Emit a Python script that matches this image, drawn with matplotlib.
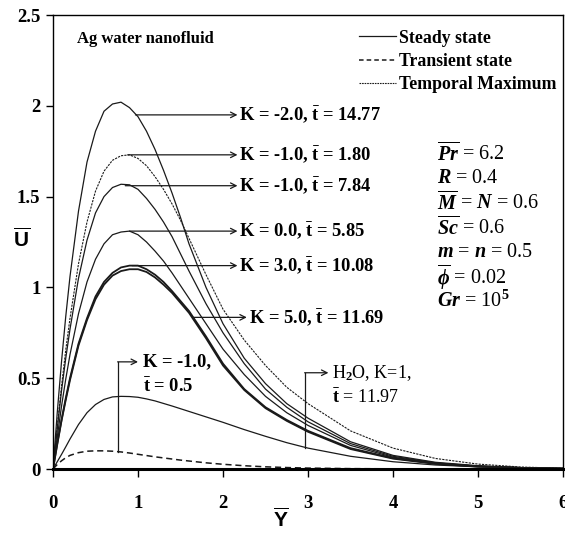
"""
Velocity profiles U(Y) for Ag-water nanofluid: steady, transient and temporal maximum.
"""

import matplotlib
matplotlib.use("Agg")
import matplotlib.pyplot as plt
from matplotlib.lines import Line2D

# Fonts
plt.rcParams["font.family"] = ["Liberation Serif", "DejaVu Serif"]
plt.rcParams["mathtext.fontset"] = "custom"
plt.rcParams["mathtext.rm"] = "Liberation Serif:bold"
plt.rcParams["mathtext.bf"] = "Liberation Serif:bold"
plt.rcParams["mathtext.it"] = "Liberation Serif:italic:bold"
plt.rcParams["mathtext.sf"] = "Liberation Sans:bold"

# Data
Y_GRID = [0, 0.05, 0.1, 0.15, 0.2, 0.3, 0.4, 0.5, 0.6, 0.7, 0.8, 0.9, 1.0, 1.1, 1.2, 1.3, 1.4, 1.5,
          1.6, 1.8, 2.0, 2.25, 2.5, 2.75, 3.0, 3.5, 4.0, 4.5, 5.0, 5.5, 6.0]

U_STEADY_K_M2 = [0, 0.31, 0.59, 0.84, 1.06, 1.42, 1.69, 1.86, 1.97, 2.01, 2.02, 1.99, 1.94, 1.86, 1.76, 1.645,
                 1.52, 1.385, 1.24, 1.00, 0.80, 0.61, 0.47, 0.36, 0.28, 0.15, 0.075, 0.037, 0.018, 0.008, 0.003]
U_TEMPORAL_K_M1 = [0, 0.235, 0.455, 0.655, 0.83, 1.13, 1.36, 1.53, 1.64, 1.70, 1.725, 1.73, 1.71, 1.67, 1.61, 1.54,
                   1.46, 1.37, 1.27, 1.07, 0.88, 0.71, 0.57, 0.45, 0.36, 0.21, 0.115, 0.058, 0.027, 0.011, 0.004]
U_STEADY_K_M1 = [0, 0.22, 0.43, 0.61, 0.77, 1.05, 1.26, 1.41, 1.50, 1.55, 1.568, 1.565, 1.54, 1.49, 1.43, 1.36,
                 1.28, 1.185, 1.09, 0.91, 0.75, 0.58, 0.44, 0.34, 0.26, 0.14, 0.07, 0.034, 0.016, 0.007, 0.003]
U_STEADY_K_0 = [0, 0.175, 0.345, 0.495, 0.63, 0.855, 1.03, 1.155, 1.24, 1.29, 1.305, 1.31, 1.29, 1.25, 1.20, 1.145,
                1.08, 1.01, 0.94, 0.80, 0.66, 0.52, 0.40, 0.31, 0.24, 0.13, 0.065, 0.032, 0.015, 0.007, 0.003]
U_STEADY_K_3 = [0, 0.14, 0.27, 0.39, 0.50, 0.69, 0.83, 0.95, 1.03, 1.08, 1.11, 1.12, 1.12, 1.10, 1.07, 1.03,
                0.98, 0.925, 0.87, 0.73, 0.58, 0.44, 0.34, 0.27, 0.21, 0.115, 0.06, 0.03, 0.014, 0.006, 0.002]
U_STEADY_K_5 = [0, 0.135, 0.265, 0.38, 0.49, 0.68, 0.82, 0.935, 1.015, 1.065, 1.09, 1.10, 1.10, 1.085, 1.055, 1.015,
                0.97, 0.915, 0.86, 0.72, 0.57, 0.435, 0.335, 0.265, 0.205, 0.11, 0.057, 0.028, 0.013, 0.006, 0.002]
U_STEADY_H2O = [0, 0.04, 0.08, 0.122, 0.165, 0.245, 0.31, 0.355, 0.383, 0.397, 0.40, 0.399, 0.395, 0.386, 0.375, 0.361,
                0.347, 0.332, 0.317, 0.287, 0.257, 0.217, 0.18, 0.145, 0.115, 0.07, 0.04, 0.022, 0.012, 0.006, 0.003]
U_TRANSIENT_K_M1 = [0, 0.025, 0.045, 0.062, 0.075, 0.09, 0.098, 0.10, 0.10, 0.098, 0.094, 0.088, 0.081, 0.074, 0.067,
                    0.061, 0.055, 0.049, 0.044, 0.034, 0.026, 0.018, 0.012, 0.008, 0.005, 0.002, 0.001, 0, 0, 0, 0]

X_TICKS = [0, 1, 2, 3, 4, 5, 6]
Y_TICKS = [0, 0.5, 1, 1.5, 2, 2.5]
Y_TICK_LABELS = ["0", "0.5", "1", "1.5", "2", "2.5"]

# (label, arrow y, arrow start x, arrow end x)
ARROW_LABELS = [
    (r"K = -2.0, $\bar{\mathrm{t}}$ = 14.77", 1.95, 0.97, 2.17),
    (r"K = -1.0, $\bar{\mathrm{t}}$ = 1.80", 1.73, 0.88, 2.17),
    (r"K = -1.0, $\bar{\mathrm{t}}$ = 7.84", 1.56, 0.85, 2.17),
    (r"K = 0.0, $\bar{\mathrm{t}}$ = 5.85", 1.31, 0.90, 2.17),
    (r"K = 3.0, $\bar{\mathrm{t}}$ = 10.08", 1.12, 0.93, 2.17),
    (r"K = 5.0, $\bar{\mathrm{t}}$ = 11.69", 0.835, 1.65, 2.28),
]

PARAMS = [
    r"$\overline{Pr}$ = 6.2",
    r"$R$ = 0.4",
    r"$\overline{M}$ = $N$ = 0.6",
    r"$\overline{Sc}$ = 0.6",
    r"$m$ = $n$ = 0.5",
    r"$\overline{\phi}$ = 0.02",
    r"$Gr$ = 10$^{\mathrm{5}}$",
]

LINE_COLOR = "#1a1a1a"


def draw_bracket(ax, x, y0, y1, x_end):
    """Vertical stem from a curve, then a horizontal arrow."""
    ax.plot([x, x], [y0, y1], color=LINE_COLOR, lw=0.9)
    ax.annotate("", xy=(x_end, y1), xytext=(x, y1),
                arrowprops=dict(arrowstyle="->", lw=0.9, color=LINE_COLOR, shrinkA=0, shrinkB=0))


def main():
    fig = plt.figure(figsize=(5.65, 5.36), dpi=100)
    ax = fig.add_axes([0.0938, 0.125, 0.9027, 0.847])

    steady_kw = dict(color=LINE_COLOR, lw=0.9, ls="-")
    ax.plot(Y_GRID, U_STEADY_K_M2, **steady_kw)
    ax.plot(Y_GRID, U_STEADY_K_M1, **steady_kw)
    ax.plot(Y_GRID, U_STEADY_K_0, **steady_kw)
    ax.plot(Y_GRID, U_STEADY_K_3, color=LINE_COLOR, lw=1.3)
    ax.plot(Y_GRID, U_STEADY_K_5, color=LINE_COLOR, lw=1.3)
    ax.plot(Y_GRID, U_STEADY_H2O, **steady_kw)
    ax.plot(Y_GRID, U_TEMPORAL_K_M1, color=LINE_COLOR, lw=0.8, ls=(0, (2, 1)))
    ax.plot(Y_GRID, U_TRANSIENT_K_M1, color=LINE_COLOR, lw=1.1, ls=(0, (4, 2.5)))

    # Horizontal arrows with labels
    for text, y, x0, x1 in ARROW_LABELS:
        ax.annotate("", xy=(x1, y), xytext=(x0, y),
                    arrowprops=dict(arrowstyle="->", lw=0.9, color=LINE_COLOR, shrinkA=0, shrinkB=0))
        ax.text(x1 + 0.02, y, text, fontsize=13.3, fontweight="bold", va="center", ha="left")

    # Bracket arrows
    draw_bracket(ax, 0.76, 0.095, 0.59, 1.0)
    ax.text(1.06, 0.59, "K = -1.0,", fontsize=13.3, fontweight="bold", va="center")
    ax.text(1.06, 0.45, r"$\bar{\mathrm{t}}$ = 0.5", fontsize=13.3, fontweight="bold", va="center")

    draw_bracket(ax, 2.96, 0.115, 0.53, 3.24)
    ax.text(3.28, 0.53, r"H$_{\mathrm{2}}$O, K=1,", fontsize=13, va="center")
    ax.text(3.28, 0.39, r"$\bar{\mathrm{t}}$ = 11.97", fontsize=13, va="center")

    ax.text(0.28, 2.37, "Ag water nanofluid", fontsize=12, fontweight="bold", va="center")

    # Parameter block
    for i, p in enumerate(PARAMS):
        ax.text(4.52, 1.735 - i * 0.1354, p, fontsize=14.5, va="center", ha="left")

    # Legend
    handles = [
        Line2D([], [], color=LINE_COLOR, lw=0.9, ls="-"),
        Line2D([], [], color=LINE_COLOR, lw=1.1, ls=(0, (3, 2))),
        Line2D([], [], color=LINE_COLOR, lw=0.8, ls=(0, (1.5, 0.8))),
    ]
    ax.legend(handles, ["Steady state", "Transient state", "Temporal Maximum"],
              loc="upper left", bbox_to_anchor=(0.568, 1.003), frameon=False,
              handlelength=2.1, handletextpad=0.15, labelspacing=0.35,
              prop={"family": "Liberation Serif", "weight": "bold", "size": 12.8})

    # Axes styling
    ax.set_xlim(0, 6)
    ax.set_ylim(0, 2.5)
    ax.set_xticks(X_TICKS)
    ax.set_xticklabels([str(t) for t in X_TICKS], fontsize=13.5, fontweight="bold")
    ax.set_yticks(Y_TICKS)
    ax.set_yticklabels(Y_TICK_LABELS, fontsize=13.5, fontweight="bold")
    ax.tick_params(axis="x", direction="out", length=6, width=1, pad=13)
    ax.tick_params(axis="y", direction="out", length=5, width=1, pad=4)
    for side in ["top", "right", "left"]:
        ax.spines[side].set_linewidth(1.0)
    ax.spines["bottom"].set_linewidth(2.2)

    fig.text(22 / 565, 1 - 240 / 536, r"$\overline{\mathsf{U}}$", fontsize=15, ha="center", va="center")
    fig.text(281 / 565, 1 - 520 / 536, r"$\overline{\mathsf{Y}}$", fontsize=15, ha="center", va="center")

    fig.savefig("out.png", dpi=100)


if __name__ == "__main__":
    main()
